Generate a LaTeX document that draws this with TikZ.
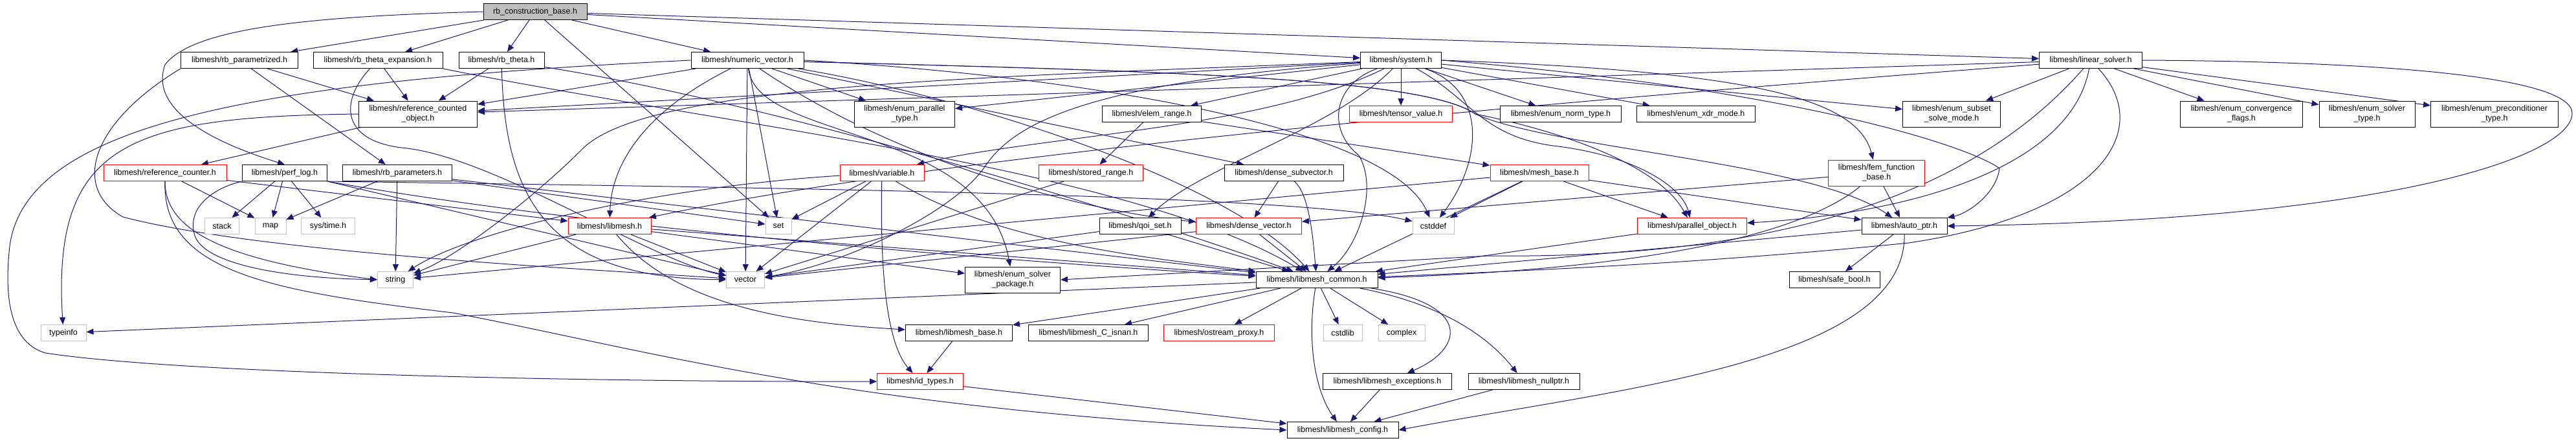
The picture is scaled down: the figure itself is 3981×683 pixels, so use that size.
\documentclass[tikz,border=0pt]{standalone}
\usepackage{fontspec}
\setmainfont{Liberation Sans}
\usetikzlibrary{arrows.meta}
\definecolor{edgeBlue}{RGB}{25,25,112}
\definecolor{sysGray}{RGB}{191,191,191}
\definecolor{rootGray}{RGB}{191,191,191}
\newcommand{\hfont}{\fontsize{12.5}{15}\selectfont}
\pgfdeclarelayer{edges}
\pgfsetlayers{edges,main}
\tikzset{
  hdr/.style={draw=black, line width=1pt, fill=white, align=center, minimum height=25pt, inner sep=2pt, font=\hfont},
  hdrred/.style={hdr, draw=red},
  hdrsys/.style={hdr, draw=sysGray},
  hdrroot/.style={hdr, fill=rootGray},
  tall/.style={minimum height=40pt},
  inc/.style={-{Triangle[length=11pt,width=9pt]}, line width=1pt, draw=edgeBlue}
}

\begin{document}
\begin{tikzpicture}[x=1pt, y=-1pt]
  \useasboundingbox (0,0) rectangle (3981,683);

  \node[hdrroot, minimum width=160pt] (root) at (827,18) {rb\_construction\_base.h};

  \node[hdr, minimum width=181pt] (rbparam) at (370,93) {libmesh/rb\_parametrized.h};
  \node[hdr, minimum width=200pt] (rbthexp) at (584,93) {libmesh/rb\_theta\_expansion.h};
  \node[hdr, minimum width=132pt] (rbtheta) at (775,93) {libmesh/rb\_theta.h};
  \node[hdr, minimum width=174pt] (numvec) at (1155,93) {libmesh/numeric\_vector.h};
  \node[hdr, minimum width=125pt] (system) at (2165,93) {libmesh/system.h};
  \node[hdr, minimum width=159pt] (linsolver) at (3231,93) {libmesh/linear\_solver.h};

  \node[hdr, tall, minimum width=183pt] (refcobj) at (646,176) {libmesh/reference\_counted\\\_object.h};
  \node[hdr, tall, minimum width=155pt] (enumpar) at (1398,176) {libmesh/enum\_parallel\\\_type.h};
  \node[hdr, minimum width=153pt] (elemrange) at (1780,176) {libmesh/elem\_range.h};
  \node[hdrred, minimum width=159pt] (tensor) at (2165,176) {libmesh/tensor\_value.h};
  \node[hdr, minimum width=187pt] (enumnorm) at (2412,176) {libmesh/enum\_norm\_type.h};
  \node[hdr, minimum width=183pt] (enumxdr) at (2621,176) {libmesh/enum\_xdr\_mode.h};
  \node[hdr, tall, minimum width=151pt] (subset) at (3016,176) {libmesh/enum\_subset\\\_solve\_mode.h};
  \node[hdr, tall, minimum width=189pt] (convflags) at (3464,176) {libmesh/enum\_convergence\\\_flags.h};
  \node[hdr, tall, minimum width=148pt] (solvertype) at (3658,176) {libmesh/enum\_solver\\\_type.h};
  \node[hdr, tall, minimum width=197pt] (precond) at (3855,176) {libmesh/enum\_preconditioner\\\_type.h};

  \node[hdrred, minimum width=190pt] (refcounter) at (255,267) {libmesh/reference\_counter.h};
  \node[hdr, minimum width=131pt] (perflog) at (440,267) {libmesh/perf\_log.h};
  \node[hdr, minimum width=169pt] (rbparams) at (614,267) {libmesh/rb\_parameters.h};
  \node[hdrred, minimum width=130pt] (variable) at (1363,267) {libmesh/variable.h};
  \node[hdrred, minimum width=161pt] (storedrange) at (1686,267) {libmesh/stored\_range.h};
  \node[hdr, minimum width=184pt] (densesub) at (1984,267) {libmesh/dense\_subvector.h};
  \node[hdrred, minimum width=152pt] (meshbase) at (2379,267) {libmesh/mesh\_base.h};
  \node[hdrred, tall, minimum width=149pt] (femfunc) at (2900,267) {libmesh/fem\_function\\\_base.h};

  \node[hdrsys, minimum width=53pt] (stack) at (343,349) {stack};
  \node[hdrsys, minimum width=48pt] (map) at (418,349) {map};
  \node[hdrsys, minimum width=83pt] (systime) at (507,349) {sys/time.h};
  \node[hdrred, minimum width=128pt] (libmeshh) at (942,349) {libmesh/libmesh.h};
  \node[hdrsys, minimum width=40pt] (set) at (1203,349) {set};
  \node[hdr, minimum width=126pt] (qoiset) at (1762,349) {libmesh/qoi\_set.h};
  \node[hdrred, minimum width=163pt] (densevec) at (1930,349) {libmesh/dense\_vector.h};
  \node[hdrsys, minimum width=64pt] (cstddef) at (2215,349) {cstddef};
  \node[hdrred, minimum width=169pt] (parobj) at (2615,349) {libmesh/parallel\_object.h};
  \node[hdr, minimum width=132pt] (autoptr) at (2943,349) {libmesh/auto\_ptr.h};

  \node[hdrsys, minimum width=55pt] (string) at (611,432) {string};
  \node[hdrsys, minimum width=59pt] (vector) at (1152,432) {vector};
  \node[hdr, tall, minimum width=147pt] (solverpkg) at (1565,432) {libmesh/enum\_solver\\\_package.h};
  \node[hdr, minimum width=188pt] (common) at (2035,432) {libmesh/libmesh\_common.h};
  \node[hdr, minimum width=140pt] (safebool) at (2835,432) {libmesh/safe\_bool.h};

  \node[hdrsys, minimum width=70pt] (typeinfo) at (98,514) {typeinfo};
  \node[hdr, minimum width=165pt] (libbase) at (1482,514) {libmesh/libmesh\_base.h};
  \node[hdr, minimum width=185pt] (isnan) at (1682,514) {libmesh/libmesh\_C\_isnan.h};
  \node[hdrred, minimum width=171pt] (ostream) at (1884,514) {libmesh/ostream\_proxy.h};
  \node[hdrsys, minimum width=60pt] (cstdlib) at (2075,514) {cstdlib};
  \node[hdrsys, minimum width=72pt] (complex) at (2166,514) {complex};

  \node[hdrred, minimum width=133pt] (idtypes) at (1422,589) {libmesh/id\_types.h};
  \node[hdr, minimum width=199pt] (exceptions) at (2144,589) {libmesh/libmesh\_exceptions.h};
  \node[hdr, minimum width=172pt] (nullptr) at (2355,589) {libmesh/libmesh\_nullptr.h};

  \node[hdr, minimum width=172pt] (config) at (2075,664) {libmesh/libmesh\_config.h};

  \begin{pgfonlayer}{edges}
  \draw[inc] (root) -- (rbparam);
  \draw[inc] (root) -- (rbthexp);
  \draw[inc] (root) -- (rbtheta);
  \draw[inc] (root) -- (numvec);
  \draw[inc] (root) -- (system);
  \draw[inc] (root) -- (linsolver);
  \draw[inc] (root) -- (set);
  \draw[inc] (root.west) .. controls (500,25) and (300,40) .. (255,100) .. controls (230,170) and (330,220) .. (perflog.north);

  \draw[inc] (rbparam) -- (refcobj);
  \draw[inc] (rbparam) -- (rbparams);
  \draw[inc] (rbparam.south west) .. controls (140,190) and (110,290) .. (190,335) .. controls (400,390) and (900,415) .. (vector);

  \draw[inc] (rbthexp) -- (refcobj);
  \draw[inc] (rbthexp) .. controls (530,150) and (520,215) .. (620,228) .. controls (760,240) and (1000,400) .. (vector);
  \draw[inc] (rbthexp.south east) .. controls (1100,190) and (1750,260) .. (common);

  \draw[inc] (rbtheta) -- (refcobj);
  \draw[inc] (rbtheta) .. controls (780,300) and (840,430) .. (vector);
  \draw[inc] (rbtheta) .. controls (1200,160) and (1750,330) .. (common);

  \draw[inc] (numvec) -- (refcobj);
  \draw[inc] (numvec) -- (enumpar);
  \draw[inc] (numvec) .. controls (1000,170) and (945,250) .. (libmeshh);
  \draw[inc] (numvec) -- (set);
  \draw[inc] (numvec) -- (vector);
  \draw[inc] (numvec) -- (densesub);
  \draw[inc] (numvec) .. controls (1400,260) and (1700,330) .. (densevec);
  \draw[inc] (numvec) .. controls (1170,220) and (1520,190) .. (solverpkg);
  \draw[inc] (numvec.east) .. controls (1700,120) and (2150,200) .. (cstddef);
  \draw[inc] (numvec) .. controls (1800,110) and (2200,120) .. (2280,176) .. controls (2400,200) and (2560,250) .. (parobj);
  \draw[inc] (numvec) .. controls (1800,110) and (2200,120) .. (2280,176) .. controls (2400,230) and (2800,250) .. (autoptr);
  \draw[inc] (numvec) .. controls (1500,150) and (1900,280) .. (common);
  \draw[inc] (numvec.west) .. controls (400,125) and (40,190) .. (15,380) .. controls (5,470) and (20,530) .. (70,545) .. controls (300,580) and (1000,590) .. (idtypes.west);

  \draw[inc] (system) -- (enumpar);
  \draw[inc] (system) -- (elemrange);
  \draw[inc] (system) -- (tensor);
  \draw[inc] (system) -- (enumnorm);
  \draw[inc] (system) -- (enumxdr);
  \draw[inc] (system) -- (subset);
  \draw[inc] (system) -- (refcobj);
  \draw[inc] (system.east) .. controls (2700,110) and (2870,150) .. (femfunc);
  \draw[inc] (system) .. controls (1950,200) and (1600,210) .. (variable);
  \draw[inc] (system) .. controls (2060,200) and (1850,260) .. (qoiset);
  \draw[inc] (system) .. controls (2300,140) and (2290,250) .. (cstddef);
  \draw[inc] (system) .. controls (1500,120) and (1000,130) .. (900,230) .. controls (820,310) and (700,400) .. (string);
  \draw[inc] (system) .. controls (1650,130) and (1560,200) .. (1520,260) .. controls (1470,330) and (1300,410) .. (vector);
  \draw[inc] (system) .. controls (2060,130) and (2050,200) .. (2100,240) .. controls (2130,290) and (2100,380) .. (common);
  \draw[inc] (system) .. controls (2270,150) and (2290,210) .. (2400,225) .. controls (2530,240) and (2600,290) .. (parobj);
  \draw[inc] (system.east) .. controls (2800,140) and (3050,230) .. (3090,260) .. controls (3085,300) and (3040,330) .. (autoptr);

  \draw[inc] (linsolver) -- (subset);
  \draw[inc] (linsolver) -- (convflags);
  \draw[inc] (linsolver) -- (solvertype);
  \draw[inc] (linsolver) -- (precond);
  \draw[inc] (linsolver) -- (refcobj);
  \draw[inc] (linsolver) .. controls (2500,150) and (1500,230) .. (libmeshh);
  \draw[inc] (linsolver) .. controls (3050,300) and (2750,400) .. (2300,395) -- (solverpkg.east);
  \draw[inc] (linsolver) .. controls (3200,260) and (2950,330) .. (parobj);
  \draw[inc] (linsolver) .. controls (3330,200) and (3250,330) .. (2950,375) .. controls (2600,410) and (2300,420) .. (common);
  \draw[inc] (linsolver.east) .. controls (3700,95) and (3975,120) .. (3975,175) .. controls (3975,240) and (3700,340) .. (autoptr.east);

  \draw[inc] (refcobj) -- (refcounter);
  \draw[inc] (refcobj.west) .. controls (200,180) and (80,220) .. (typeinfo);

  \draw[inc] (refcounter) .. controls (255,350) and (330,400) .. (string.west);
  \draw[inc] (refcounter) -- (map);
  \draw[inc] (refcounter) -- (libmeshh);
  \draw[inc] (refcounter.south) .. controls (250,420) and (420,450) .. (700,483) .. controls (1000,540) and (1300,630) .. (config.west);

  \draw[inc] (perflog.south west) .. controls (330,290) and (290,320) .. (300,360) .. controls (310,410) and (450,430) .. (string);
  \draw[inc] (perflog) -- (stack);
  \draw[inc] (perflog) -- (map);
  \draw[inc] (perflog) -- (systime);
  \draw[inc] (perflog.south east) -- (vector);
  \draw[inc] (perflog.south east) .. controls (900,350) and (1500,400) .. (common);
  \draw[inc] (perflog.south east) .. controls (1200,290) and (2000,300) .. (cstddef);

  \draw[inc] (rbparams) -- (map);
  \draw[inc] (rbparams) -- (string);
  \draw[inc] (rbparams) -- (set);
  \draw[inc] (rbparams) -- (common);

  \draw[inc] (libmeshh) -- (string);
  \draw[inc] (libmeshh) -- (vector);
  \draw[inc] (libmeshh) .. controls (1050,480) and (1250,500) .. (libbase);
  \draw[inc] (libmeshh) -- (common);
  \draw[inc] (libmeshh) -- (solverpkg);

  \draw[inc] (variable) -- (set);
  \draw[inc] (variable) .. controls (1000,290) and (720,360) .. (string);
  \draw[inc] (variable) -- (vector);
  \draw[inc] (variable) .. controls (1360,420) and (1370,530) .. (idtypes);
  \draw[inc] (variable) .. controls (1550,380) and (1800,400) .. (common);

  \draw[inc] (storedrange) -- (vector);
  \draw[inc] (elemrange) -- (storedrange);
  \draw[inc] (elemrange) -- (meshbase);
  \draw[inc] (densesub) -- (densevec);
  \draw[inc] (densesub) .. controls (2025,300) and (2030,380) .. (common);
  \draw[inc] (densevec) -- (common);
  \draw[inc] (densevec) -- (vector);
  \draw[inc] (qoiset) -- (vector);
  \draw[inc] (qoiset) -- (common);

  \draw[inc] (meshbase) -- (string);
  \draw[inc] (meshbase) -- (cstddef);
  \draw[inc] (meshbase) -- (common);
  \draw[inc] (meshbase) -- (parobj);
  \draw[inc] (meshbase) -- (autoptr);

  \draw[inc] (femfunc) -- (autoptr);
  \draw[inc] (femfunc) -- (densevec);
  \draw[inc] (femfunc) .. controls (2750,390) and (2400,420) .. (common);

  \draw[inc] (parobj) -- (common);
  \draw[inc] (autoptr) -- (safebool);
  \draw[inc] (autoptr) -- (common);
  \draw[inc] (autoptr) .. controls (2945,560) and (2500,600) .. (config.east);

  \draw[inc] (common) -- (typeinfo);
  \draw[inc] (common) -- (libbase);
  \draw[inc] (common) -- (isnan);
  \draw[inc] (common) -- (ostream);
  \draw[inc] (common) -- (cstdlib);
  \draw[inc] (common) -- (complex);
  \draw[inc] (common) .. controls (2280,470) and (2260,540) .. (exceptions);
  \draw[inc] (common) .. controls (2230,470) and (2300,520) .. (nullptr);
  \draw[inc] (common) .. controls (2020,520) and (2030,600) .. (config);

  \draw[inc] (libbase) -- (idtypes);
  \draw[inc] (idtypes) -- (config);
  \draw[inc] (exceptions) -- (config);
  \draw[inc] (nullptr) -- (config);
  \end{pgfonlayer}
\end{tikzpicture}
\end{document}
